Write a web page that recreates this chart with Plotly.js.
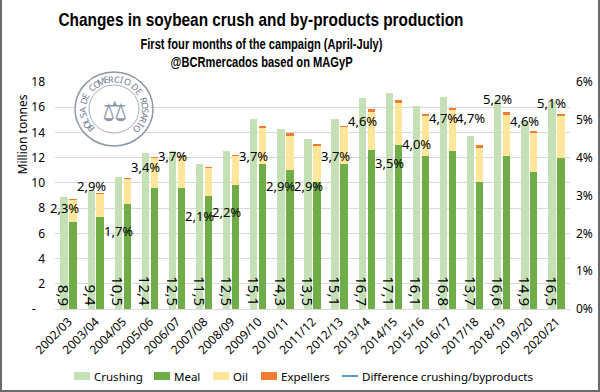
<!DOCTYPE html>
<html>
<head>
<meta charset="utf-8">
<script src="https://cdn.plot.ly/plotly-3.0.1.min.js"></script>
<style>
  html, body { margin: 0; padding: 0; background: #fff; }
  #wrap { position: relative; width: 600px; height: 392px; }
  #chart { width: 600px; height: 392px; }
  #frame { position: absolute; left: 0; top: 0; width: 596px; height: 390px;
           border-left: 2px solid #6b6b6b; border-right: 2px solid #6b6b6b; border-bottom: 2px solid #6b6b6b;
           pointer-events: none; }
</style>
</head>
<body>
<div id="wrap"><div id="chart"></div><div id="frame"></div></div>
<script>
// ---- data ----
const categories = ['2002/03','2003/04','2004/05','2005/06','2006/07','2007/08','2008/09','2009/10','2010/11','2011/12',
                    '2012/13','2013/14','2014/15','2015/16','2016/17','2017/18','2018/19','2019/20','2020/21'];
const crushing  = [8.9, 9.4, 10.5, 12.4, 12.5, 11.5, 12.5, 15.1, 14.3, 13.5, 15.1, 16.7, 17.1, 16.1, 16.8, 13.7, 16.6, 14.9, 16.5];
const meal      = [6.9, 7.3, 8.3, 9.6, 9.6, 9.0, 9.8, 11.5, 11.0, 10.1, 11.5, 12.6, 13.0, 12.1, 12.5, 10.1, 12.15, 10.9, 12.0];
const oil       = [1.75, 1.8, 2.0, 2.35, 2.45, 2.15, 2.35, 2.85, 2.75, 2.85, 2.9, 3.05, 3.3, 3.2, 3.25, 2.7, 3.25, 3.05, 3.3];
const expellers = [0.07, 0.07, 0.07, 0.07, 0.08, 0.1, 0.08, 0.18, 0.17, 0.17, 0.13, 0.2, 0.25, 0.2, 0.2, 0.2, 0.2, 0.2, 0.2];
const differencePct = [2.3, 2.9, 1.7, 3.4, 3.7, 2.1, 2.2, 3.7, 2.9, 2.9, 3.7, 4.6, 3.5, 4.0, 4.7, 4.7, 5.2, 4.6, 5.1];
const seriesNames = ['Crushing', 'Meal', 'Oil', 'Expellers', 'Difference crushing/byproducts'];
const leftTickVals = [0, 2, 4, 6, 8, 10, 12, 14, 16, 18];
const leftTickText = ['-\u00a0\u00a0\u00a0', '2', '4', '6', '8', '10', '12', '14', '16', '18'];
const rightTickVals = [0, 1, 2, 3, 4, 5, 6];
const rightTickText = ['0%', '1%', '2%', '3%', '4%', '5%', '6%'];
const logoText = 'BOLSA DE COMERCIO DE ROSARIO';

// ---- helpers ----
const comma = (v) => v.toFixed(1).replace('.', ',');
const TXT = "'Noto Sans', 'DejaVu Sans', sans-serif";
const TITLE = "'Liberation Sans', Arial, sans-serif";
const COLORS = ['#C5E0B4', '#70AD47', '#FFE699', '#ED7D31', '#5B9BD5'];
const BW = 0.27;

const base1 = meal.map((m) => m);
const base2 = meal.map((m, i) => m + oil[i]);

const traces = [
  { type: 'bar', name: seriesNames[0], x: categories, y: crushing, offset: -0.30, width: BW,
    marker: { color: COLORS[0] }, text: crushing.map(comma), textposition: 'inside', constraintext: 'none',
    insidetextanchor: 'start', textangle: 90, insidetextfont: { family: TXT, size: 15, color: '#000' },
    hoverinfo: 'skip' },
  { type: 'bar', name: seriesNames[1], x: categories, y: meal, offset: 0.03, width: BW,
    marker: { color: COLORS[1] }, hoverinfo: 'skip' },
  { type: 'bar', name: seriesNames[2], x: categories, y: oil, base: base1, offset: 0.03, width: BW,
    marker: { color: COLORS[2] }, hoverinfo: 'skip' },
  { type: 'bar', name: seriesNames[3], x: categories, y: expellers, base: base2, offset: 0.03, width: BW,
    marker: { color: COLORS[3] }, hoverinfo: 'skip' },
  { type: 'scatter', mode: 'lines', name: seriesNames[4], x: categories,
    y: categories.map(() => null), yaxis: 'y2', line: { color: COLORS[4], width: 2 }, hoverinfo: 'skip' }
];

// percentage labels (line data labels)
const annotations = differencePct.map((p, i) => ({
  x: categories[i], y: p, xref: 'x', yref: 'y2', text: comma(p) + '%', showarrow: false,
  xshift: -4.5, yshift: 13.5, xanchor: 'center', yanchor: 'middle',
  font: { family: TXT, size: 13, color: '#000' }
}));

// plot area geometry (px)
const L = 55, R = 30, T = 82, B = 83, W = 600, H = 392;
const PW = W - L - R, PH = H - T - B;
const px = (x) => (x - L) / PW;
const py = (y) => (H - B - y) / PH;

// subtitles & axis title
const SUB1 = annotations.length;
annotations.push(
  { xref: 'paper', yref: 'paper', x: px(261), y: py(44), text: 'First four months of the campaign (April-July)',
    showarrow: false, xanchor: 'center', yanchor: 'middle', font: { family: TITLE, size: 14, weight: 'bold', color: '#000' } },
  { xref: 'paper', yref: 'paper', x: px(261), y: py(62), text: '@BCRmercados based on MAGyP',
    showarrow: false, xanchor: 'center', yanchor: 'middle', font: { family: TITLE, size: 14, weight: 'bold', color: '#000' } },
  { xref: 'paper', yref: 'paper', x: px(22), y: py(134.5), text: 'Million tonnes', textangle: -90,
    showarrow: false, xanchor: 'center', yanchor: 'middle', font: { family: TXT, size: 12, color: '#000' } }
);

// logo (seal) — circles and curved text
const LX = 114, LY = 109;
const shapes = [
  { type: 'circle', xref: 'paper', yref: 'paper', xsizemode: 'pixel', ysizemode: 'pixel',
    xanchor: px(LX), yanchor: py(LY), x0: -39, x1: 39, y0: -37, y1: 37,
    line: { color: '#8D98A8', width: 1.5 }, fillcolor: 'rgba(255,255,255,0.92)', layer: 'above' },
  { type: 'circle', xref: 'paper', yref: 'paper', xsizemode: 'pixel', ysizemode: 'pixel',
    xanchor: px(LX), yanchor: py(LY), x0: -25, x1: 25, y0: -24, y1: 24,
    line: { color: '#A5AEBB', width: 1 }, layer: 'above' }
];
const n = logoText.length;
const a0 = 222, a1 = -42;
for (let k = 0; k < n; k++) {
  const th = a0 + (a1 - a0) * k / (n - 1);
  const rad = th * Math.PI / 180;
  annotations.push({ xref: 'paper', yref: 'paper', x: px(LX), y: py(LY), xshift: 31.5 * Math.cos(rad), yshift: 30 * Math.sin(rad),
    text: logoText[k], textangle: 90 - th, showarrow: false, xanchor: 'center', yanchor: 'middle',
    font: { family: TXT, size: 9, color: '#6F7C90' } });
}
annotations.push({ xref: 'paper', yref: 'paper', x: px(LX), y: py(LY + 2), text: '\u2696', showarrow: false,
  xanchor: 'center', yanchor: 'middle', font: { family: "'DejaVu Sans', sans-serif", size: 28, color: '#8D98A8' } });

// legend drawn at the bottom (swatches + labels)
const legendX = [74, 154, 213, 261, 342];
const legendY = 376;
seriesNames.forEach((name, i) => {
  const x0 = legendX[i];
  if (i < 4) {
    shapes.push({ type: 'rect', xref: 'paper', yref: 'paper', xsizemode: 'pixel', ysizemode: 'pixel',
      xanchor: px(x0), yanchor: py(legendY), x0: 0, x1: 16, y0: -4, y1: 4,
      line: { width: 0 }, fillcolor: COLORS[i] });
  } else {
    shapes.push({ type: 'line', xref: 'paper', yref: 'paper', xsizemode: 'pixel', ysizemode: 'pixel',
      xanchor: px(x0), yanchor: py(legendY), x0: 0, x1: 16, y0: 0, y1: 0,
      line: { width: 2, color: COLORS[i] } });
  }
  annotations.push({ xref: 'paper', yref: 'paper', x: px(x0 + 18), y: py(legendY), text: name, showarrow: false,
    xanchor: 'left', yanchor: 'middle', font: { family: TXT, size: 11.5, color: '#000' } });
});

const layout = {
  width: W, height: H,
  margin: { l: L, r: R, t: T, b: B, pad: 0 },
  paper_bgcolor: '#fff', plot_bgcolor: '#fff',
  barmode: 'overlay', bargap: 0,
  showlegend: false,
  title: { text: 'Changes in soybean crush and by-products production', xref: 'container', x: 261 / W,
           xanchor: 'center', yref: 'container', y: 1 - 19.5 / H, yanchor: 'middle',
           font: { family: TITLE, size: 19, weight: 'bold', color: '#000' } },
  xaxis: { type: 'category', tickangle: -45, tickfont: { family: TXT, size: 12, color: '#000' },
           showgrid: false, showline: true, linecolor: '#D9D9D9', linewidth: 1, ticks: '',
           range: [-0.5, categories.length - 0.5], fixedrange: true },
  yaxis: { range: [0, 18], tickvals: leftTickVals, ticktext: leftTickText, showgrid: true, gridcolor: '#D9D9D9',
           gridwidth: 1, zeroline: false, showline: false, ticks: '', ticklabelstandoff: 9,
           tickfont: { family: TXT, size: 12, color: '#000' }, fixedrange: true },
  yaxis2: { overlaying: 'y', side: 'right', range: [0, 6], tickvals: rightTickVals, ticktext: rightTickText,
            showgrid: false, zeroline: false, showline: false, ticks: '', ticklabelstandoff: 5,
            tickfont: { family: TXT, size: 12, color: '#000' }, fixedrange: true },
  annotations: annotations,
  shapes: shapes
};

Plotly.newPlot('chart', traces, layout, { staticPlot: true, displayModeBar: false }).then((gd) => {
  // condense the title lines to the width used by the reference's condensed font
  const fit = (el, len) => { if (el) { el.setAttribute('textLength', len); el.setAttribute('lengthAdjust', 'spacingAndGlyphs'); } };
  fit(gd.querySelector('.gtitle'), 405);
  fit(gd.querySelector('g.annotation[data-index="' + SUB1 + '"] text.annotation-text'), 242);
  fit(gd.querySelector('g.annotation[data-index="' + (SUB1 + 1) + '"] text.annotation-text'), 182);
});
</script>
</body>
</html>
